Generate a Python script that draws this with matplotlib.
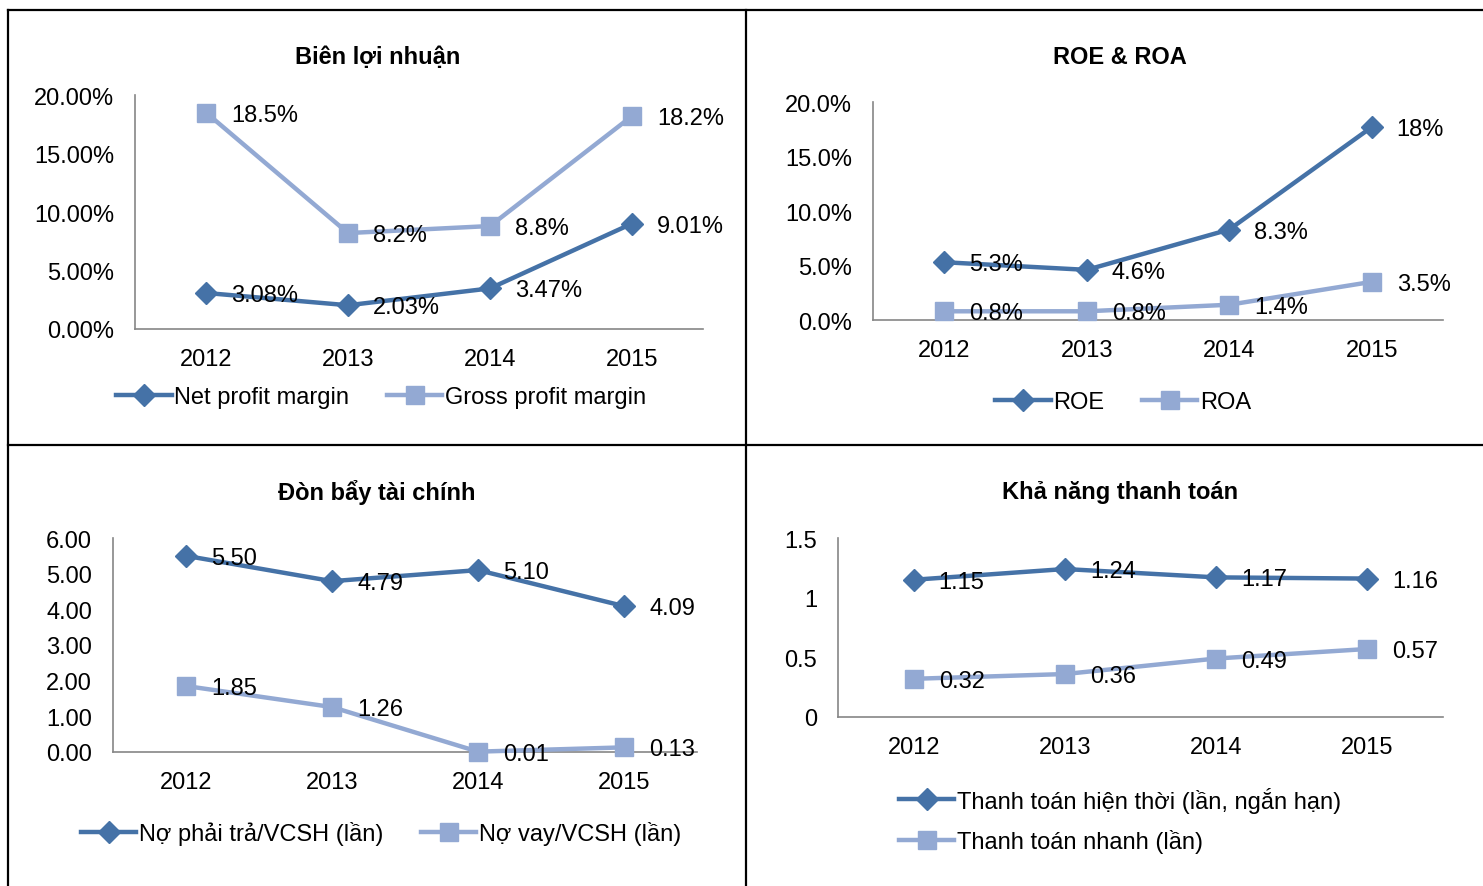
import matplotlib
matplotlib.use("Agg")
import matplotlib.pyplot as plt
from matplotlib.lines import Line2D
from matplotlib.ticker import FuncFormatter

plt.rcParams['font.family'] = ['Liberation Sans', 'DejaVu Sans']

years = ['2012', '2013', '2014', '2015']

# Panel 1: Biên lợi nhuận (%)
net_margin = [3.08, 2.03, 3.47, 9.01]
gross_margin = [18.5, 8.2, 8.8, 18.2]
net_labels = ['3.08%', '2.03%', '3.47%', '9.01%']
gross_labels = ['18.5%', '8.2%', '8.8%', '18.2%']

# Panel 2: ROE & ROA (%)
roe = [5.3, 4.6, 8.3, 17.7]
roa = [0.8, 0.8, 1.4, 3.5]
roe_labels = ['5.3%', '4.6%', '8.3%', '18%']
roa_labels = ['0.8%', '0.8%', '1.4%', '3.5%']

# Panel 3: Đòn bẩy tài chính (lần)
debt_equity = [5.50, 4.79, 5.10, 4.09]
loan_equity = [1.85, 1.26, 0.01, 0.13]
debt_labels = ['5.50', '4.79', '5.10', '4.09']
loan_labels = ['1.85', '1.26', '0.01', '0.13']

# Panel 4: Khả năng thanh toán (lần)
current_ratio = [1.15, 1.24, 1.17, 1.16]
quick_ratio = [0.32, 0.36, 0.49, 0.57]
current_labels = ['1.15', '1.24', '1.17', '1.16']
quick_labels = ['0.32', '0.36', '0.49', '0.57']

W, H = 1483, 887
DARK = '#4572A7'
LIGHT = '#93A9D3'
FS = 17

fig = plt.figure(figsize=(W / 100, H / 100), dpi=100)
fig.patch.set_facecolor('white')


def fx(px):
    return px / W


def fy(py):
    return 1 - py / H


def make_axes(left, right, top, bottom):
    return fig.add_axes([fx(left), fy(bottom), fx(right - left), (bottom - top) / H])


def style(ax, ylim, yticks, fmt, xpad):
    ax.set_xlim(-0.5, 3.5)
    ax.set_ylim(*ylim)
    ax.set_yticks(yticks)
    ax.yaxis.set_major_formatter(FuncFormatter(fmt))
    ax.set_xticks(range(len(years)))
    ax.set_xticklabels(years)
    for s in ['top', 'right']:
        ax.spines[s].set_visible(False)
    for s in ['left', 'bottom']:
        ax.spines[s].set_color('#868686')
        ax.spines[s].set_linewidth(1.2)
    ax.tick_params(axis='both', length=0, labelsize=FS)
    ax.tick_params(axis='y', pad=15)
    ax.tick_params(axis='x', pad=xpad)
    ax.patch.set_alpha(0)


def plot_series(ax, vals, labels, color, marker, ms, name):
    x = list(range(len(vals)))
    ln, = ax.plot(x, vals, color=color, lw=3.2, marker=marker, markersize=ms,
                  markeredgecolor=color, markerfacecolor=color, label=name,
                  clip_on=False, zorder=3)
    for xi, v, lab in zip(x, vals, labels):
        ax.annotate(lab, (xi, v), xytext=(25, -2), textcoords='offset pixels',
                    ha='left', va='center', fontsize=FS, color='black', zorder=4)
    return ln


LEG = dict(frameon=False, fontsize=FS, handlelength=2.35, handletextpad=0.1,
           borderpad=0, borderaxespad=0)

# Panel 1
ax1 = make_axes(135, 703, 96, 330)
style(ax1, (0, 20), [0, 5, 10, 15, 20], lambda v, p: f'{v:.2f}%', 14)
h1 = plot_series(ax1, net_margin, net_labels, DARK, 'D', 11.5, 'Net profit margin')
h2 = plot_series(ax1, gross_margin, gross_labels, LIGHT, 's', 13, 'Gross profit margin')
fig.text(fx(378), fy(57), 'Biên lợi nhuận', ha='center', va='center', fontsize=FS, fontweight='bold')
fig.legend(handles=[h1, h2], loc='center', bbox_to_anchor=(fx(381), fy(398)), ncol=2,
           columnspacing=1.6, **LEG)

# Panel 2
ax2 = make_axes(873, 1443, 103, 321)
style(ax2, (0, 20), [0, 5, 10, 15, 20], lambda v, p: f'{v:.1f}%', 14)
h3 = plot_series(ax2, roe, roe_labels, DARK, 'D', 11.5, 'ROE')
h4 = plot_series(ax2, roa, roa_labels, LIGHT, 's', 13, 'ROA')
fig.text(fx(1120), fy(57), 'ROE & ROA', ha='center', va='center', fontsize=FS, fontweight='bold')
fig.legend(handles=[h3, h4], loc='center', bbox_to_anchor=(fx(1123), fy(403)), ncol=2,
           columnspacing=1.6, **LEG)

# Panel 3
ax3 = make_axes(113, 697, 539, 753)
style(ax3, (0, 6), [0, 1, 2, 3, 4, 5, 6], lambda v, p: f'{v:.2f}', 14)
h5 = plot_series(ax3, debt_equity, debt_labels, DARK, 'D', 11.5, 'Nợ phải trả/VCSH (lần)')
h6 = plot_series(ax3, loan_equity, loan_labels, LIGHT, 's', 13, 'Nợ vay/VCSH (lần)')
fig.text(fx(377), fy(493), 'Đòn bẩy tài chính', ha='center', va='center', fontsize=FS, fontweight='bold')
fig.legend(handles=[h5, h6], loc='center', bbox_to_anchor=(fx(381), fy(834)), ncol=2,
           columnspacing=1.6, **LEG)

# Panel 4
ax4 = make_axes(838, 1443, 539, 718)
style(ax4, (0, 1.5), [0, 0.5, 1, 1.5], lambda v, p: f'{v:g}', 14)
h7 = plot_series(ax4, current_ratio, current_labels, DARK, 'D', 11.5, 'Thanh toán hiện thời (lần, ngắn hạn)')
h8 = plot_series(ax4, quick_ratio, quick_labels, LIGHT, 's', 13, 'Thanh toán nhanh (lần)')
fig.text(fx(1120), fy(493), 'Khả năng thanh toán', ha='center', va='center', fontsize=FS, fontweight='bold')
fig.legend(handles=[h7, h8], loc='center left', bbox_to_anchor=(fx(899), fy(821)), ncol=1,
           labelspacing=0.7, **LEG)

# Panel borders
border_kw = dict(color='black', lw=1.6, transform=fig.transFigure)
fig.add_artist(Line2D([fx(8), 1], [fy(11), fy(11)], **border_kw))
fig.add_artist(Line2D([fx(8), 1], [fy(446), fy(446)], **border_kw))
fig.add_artist(Line2D([fx(8), fx(8)], [fy(11), 0], **border_kw))
fig.add_artist(Line2D([fx(746), fx(746)], [fy(11), 0], **border_kw))

fig.savefig('out.png', dpi=100, facecolor='white')
